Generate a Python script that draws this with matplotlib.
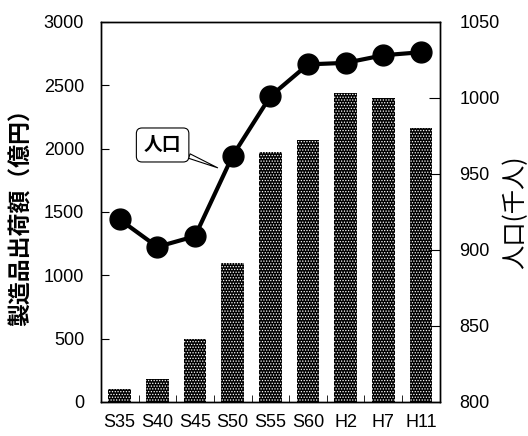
import matplotlib
matplotlib.use("Agg")
import matplotlib.pyplot as plt
import numpy as np

plt.rcParams["font.family"] = ["Liberation Sans", "Noto Sans CJK JP", "DejaVu Sans"]
plt.rcParams["hatch.color"] = "white"
plt.rcParams["hatch.linewidth"] = 0.6

years = ["S35", "S40", "S45", "S50", "S55", "S60", "H2", "H7", "H11"]
shipments = [100, 180, 500, 1100, 1975, 2065, 2435, 2395, 2160]  # 億円
population = [920, 902, 909, 962, 1001, 1022, 1023, 1028, 1030]  # 千人

fig = plt.figure(figsize=(5.28, 4.36), dpi=100)
ax = fig.add_axes([0.191, 0.078, 0.642, 0.872])
x = np.arange(len(years))

ax.bar(x, shipments, width=0.61, color="black", hatch="......", linewidth=0.8)
ax.set_xlim(-0.5, len(years) - 0.5)
ax.set_ylim(0, 3000)
ax.set_yticks(range(0, 3001, 500))
ax.set_xticks(x)
ax.set_xticklabels(years)
ax.set_xticks(np.arange(0.5, len(years) - 1, 1.0), minor=True)
ax.tick_params(axis="x", which="major", length=0, pad=9, labelsize=13)
ax.tick_params(axis="x", which="minor", direction="in", length=5)
ax.tick_params(axis="y", direction="in", length=6, pad=12, labelsize=13)
ax.set_ylabel("製造品出荷額（億円）", family=["Noto Sans CJK JP"],
              fontsize=16.5, fontweight="bold", labelpad=8)

ax2 = ax.twinx()
ax2.plot(x, population, color="black", linewidth=3, marker="o", markersize=15)
ax2.set_ylim(800, 1050)
ax2.set_yticks(range(800, 1051, 50))
ax2.tick_params(axis="y", direction="in", length=8, pad=14, labelsize=13)
ax2.set_ylabel("人口(千人)", family=["Noto Sans CJK JP"], fontsize=17.5,
               labelpad=2)

ax2.annotate("人口", xy=(2.6, 954), xytext=(1.14, 969),
             family=["Noto Sans CJK JP"], fontsize=13.5, fontweight="bold",
             ha="center", va="center",
             bbox=dict(boxstyle="round,pad=0.4,rounding_size=0.3",
                       fc="white", ec="black", lw=0.8),
             arrowprops=dict(arrowstyle="wedge,tail_width=0.25",
                             fc="white", ec="black", lw=0.8,
                             shrinkA=0, shrinkB=0))

for a in (ax, ax2):
    for s in a.spines.values():
        s.set_linewidth(1.0)

fig.savefig("out.png", dpi=100)
